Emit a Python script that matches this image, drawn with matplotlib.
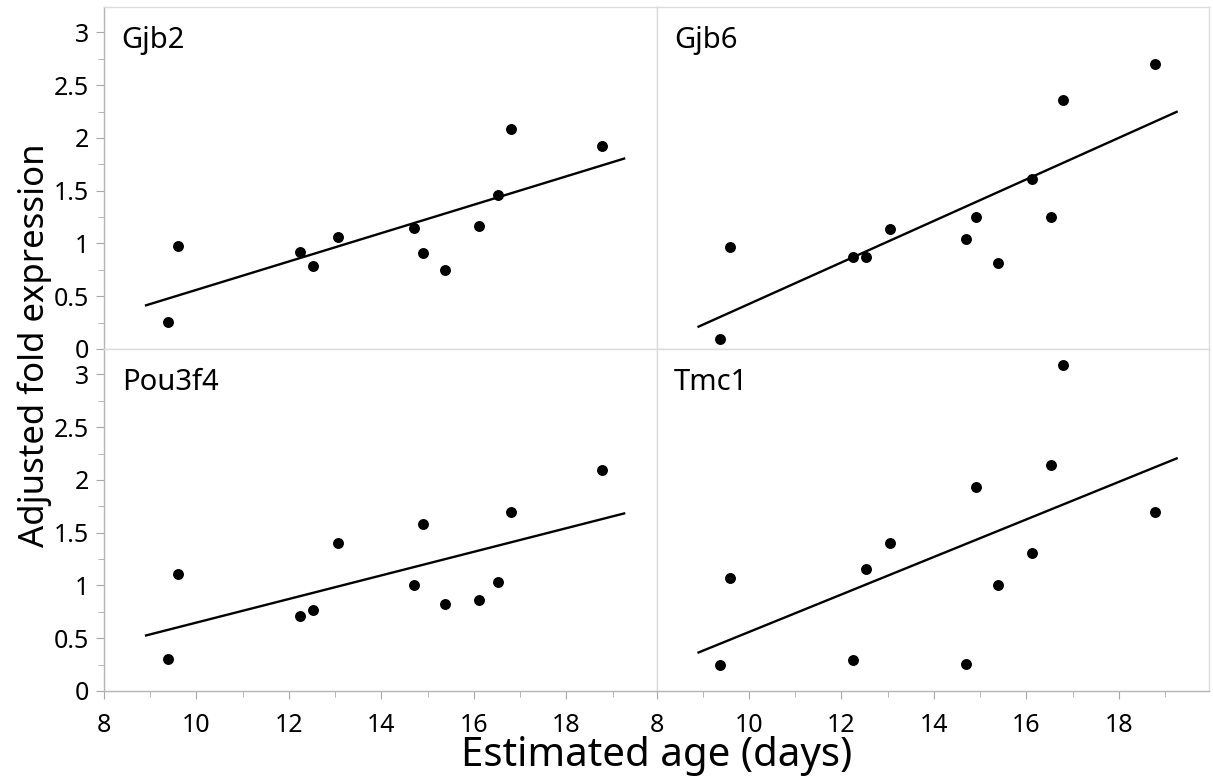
import numpy as np
import matplotlib
matplotlib.use('Agg')
import matplotlib.pyplot as plt
from matplotlib.ticker import MultipleLocator, FuncFormatter

plt.rcParams['font.family'] = ['Noto Sans', 'DejaVu Sans']

# estimated age (days) of each sample, same for all genes
age = [9.38, 9.59, 12.25, 12.53, 13.06, 14.70, 14.90, 15.38, 16.12, 16.53, 16.80, 18.78]

# adjusted fold expression per gene
gjb2 = [0.26, 0.98, 0.92, 0.79, 1.06, 1.15, 0.91, 0.75, 1.17, 1.46, 2.08, 1.92]
gjb6 = [0.09, 0.97, 0.87, 0.87, 1.14, 1.04, 1.25, 0.81, 1.61, 1.25, 2.36, 2.70]
pou3f4 = [0.30, 1.11, 0.71, 0.77, 1.40, 1.00, 1.58, 0.82, 0.86, 1.03, 1.70, 2.09]
tmc1 = [0.25, 1.07, 0.29, 1.16, 1.40, 0.26, 1.93, 1.00, 1.31, 2.14, 3.09, 1.70]

genes = ['Gjb2', 'Gjb6', 'Pou3f4', 'Tmc1']
series = [gjb2, gjb6, pou3f4, tmc1]

fig, axes = plt.subplots(2, 2, figsize=(12.13, 7.76), dpi=100, sharex=True, sharey=True)
left, right, top, bottom = 104 / 1213, 1209 / 1213, 1 - 7 / 776, 1 - 691 / 776
fig.subplots_adjust(left=left, right=right, top=top, bottom=bottom, wspace=0, hspace=0)

for i, (ax, name, vals) in enumerate(zip(axes.flat, genes, series)):
    row, col = divmod(i, 2)
    ax.scatter(age, vals, s=62, color='black', zorder=3, linewidths=0)

    # least squares fit, drawn a bit past the data range
    slope, icpt = np.polyfit(age, vals, 1)
    pad = 0.05 * (max(age) - min(age))
    xs = np.array([min(age) - pad, max(age) + pad])
    ax.plot(xs, slope * xs + icpt, color='black', lw=1.7)

    ax.text(0.032, 0.945, name, transform=ax.transAxes, fontsize=21, va='top', ha='left')

    ax.set_xlim(8, 19.95)
    ax.set_ylim(0, 3.24)
    ax.set_xticks(range(8, 19, 2))
    ax.xaxis.set_minor_locator(MultipleLocator(1))
    ax.yaxis.set_major_locator(MultipleLocator(0.5))
    ax.yaxis.set_minor_locator(MultipleLocator(0.25))
    ax.yaxis.set_major_formatter(FuncFormatter(lambda v, p: f'{v:g}'))

    for sp in ax.spines.values():
        sp.set_color('#dcdcdc')
        sp.set_linewidth(1)
    ax.tick_params(which='both', direction='out', color='#a8a8a8', labelsize=18,
                   labelcolor='black')
    ax.tick_params(which='major', length=6)
    ax.tick_params(axis='x', which='major', pad=10)
    ax.tick_params(axis='y', which='major', pad=5)
    ax.tick_params(which='minor', length=4)

    if col == 0:
        ax.spines['left'].set_color('#b4b4b4')
    else:
        ax.tick_params(axis='y', which='both', left=False)
    if row == 1:
        ax.spines['bottom'].set_color('#b4b4b4')
    else:
        ax.tick_params(axis='x', which='both', bottom=False)

fig.text(0.029, (top + bottom) / 2 + 0.005, 'Adjusted fold expression', rotation=90,
         ha='center', va='center', fontsize=25)
fig.text((left + right) / 2, 1 - 756 / 776, 'Estimated age (days)',
         ha='center', va='center', fontsize=29)

fig.savefig('out.png', dpi=100)
